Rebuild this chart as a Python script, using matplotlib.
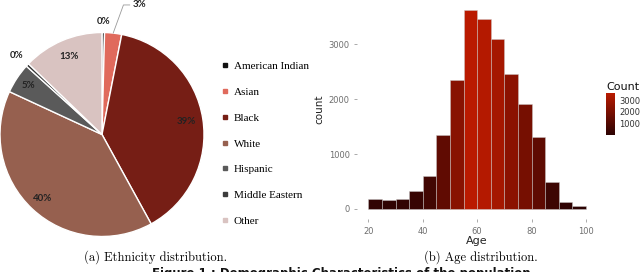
import matplotlib
matplotlib.use("Agg")
import matplotlib.pyplot as plt
from matplotlib.colors import LinearSegmentedColormap, Normalize
from matplotlib.lines import Line2D
import numpy as np

# ethnicity pie data (clockwise from the top)
groups = ['American Indian', 'Asian', 'Black', 'White', 'Hispanic',
          'Middle Eastern', 'Other']
shares = [0.4, 2.7, 38.9, 39.9, 4.8, 0.5, 12.8]
share_labels = ['0%', '3%', '39%', '40%', '5%', '0%', '13%']
group_colors = ['#111111', '#E06A5C', '#761E15', '#96604F', '#5A5A5A',
                '#3C3C3C', '#D9C3C1']

# age histogram data
age_edges = [20, 25, 30, 35, 40, 45, 50, 55, 60, 65, 70, 75, 80, 85, 90, 95, 100]
age_counts = [178, 160, 182, 328, 601, 1348, 2352, 3622, 3458, 3090, 2449,
              1917, 1318, 492, 128, 49]
age_ticks = [20, 40, 60, 80, 100]
count_ticks = [0, 1000, 2000, 3000]
cbar_ticks = [1000, 2000, 3000]

W, H = 640, 272
fig = plt.figure(figsize=(6.4, 2.72), dpi=100)


def box(x0, y0, x1, y1):
    # pixel box (top-left origin) -> figure fraction
    return [x0 / W, (H - y1) / H, (x1 - x0) / W, (y1 - y0) / H]


# ---- pie ----
ax1 = fig.add_axes(box(0, 32.5, 204, 236.5))
wedges, _ = ax1.pie(shares, colors=group_colors, startangle=90,
                    counterclock=False, radius=1,
                    wedgeprops=dict(edgecolor='white', linewidth=1.0))
ax1.set_xlim(-1, 1)
ax1.set_ylim(-1, 1)
ax1.set_aspect('equal')

label_dist = [1.11, None, 0.84, 0.86, 0.87, 1.14, 0.83]
for w, lab, d in zip(wedges, share_labels, label_dist):
    ang = np.deg2rad((w.theta1 + w.theta2) / 2)
    if d is None:
        # leader line for the small Asian slice
        ax1.annotate(lab, xy=(np.cos(ang), np.sin(ang)), xytext=(0.30, 1.27),
                     ha='left', va='center', fontsize=7, fontweight='bold',
                     family='Lato', color='#222222', annotation_clip=False,
                     arrowprops=dict(arrowstyle='-', color='#9a9a9a', lw=0.6,
                                     shrinkA=0, shrinkB=0,
                                     connectionstyle='angle,angleA=0,angleB=70'))
        continue
    ax1.text(d * np.cos(ang), d * np.sin(ang), lab, ha='center', va='center',
             fontsize=7, fontweight='bold', family='Lato', color='#222222')

handles = [Line2D([], [], marker='s', linestyle='', markersize=3,
                  markerfacecolor=c, markeredgecolor=c) for c in group_colors]
fig.legend(handles, groups, loc='upper left', bbox_to_anchor=(217 / W, 1 - 57 / H),
           frameon=False, prop=dict(family='Liberation Serif', size=8),
           handlelength=0.6, handletextpad=0.5, labelspacing=1.44,
           borderaxespad=0)

fig.text(156 / W, 1 - 257 / H, '(a) Ethnicity distribution.', ha='center',
         va='center', family='cmr10', fontsize=9)

# ---- histogram ----
cmap = LinearSegmentedColormap.from_list('reds', ['#2C0303', '#BA1A00'])
norm = Normalize(vmin=min(age_counts), vmax=max(age_counts))

ax2 = fig.add_axes(box(357.4, 0, 596.9, 218.9))
lefts = age_edges[:-1]
widths = np.diff(age_edges)
ax2.bar(lefts, age_counts, width=widths, align='edge',
        color=cmap(norm(np.array(age_counts))),
        edgecolor=(0.8, 0.8, 0.8, 0.45), linewidth=0.7)
ax2.set_xlim(16, 104)
ax2.set_ylim(-181, 3803)
for s in ax2.spines.values():
    s.set_visible(False)
ax2.set_xticks(age_ticks)
ax2.set_yticks(count_ticks)
ax2.tick_params(colors='#888888', labelcolor='#6e6e6e', labelsize=6,
                length=2, width=0.5)
ax2.set_xlabel('Age', fontsize=8, labelpad=0, color='#222222')
ax2.set_ylabel('count', fontsize=7.5, labelpad=3, color='#222222')

cax = fig.add_axes(box(606, 92.7, 615, 135))
sm = plt.cm.ScalarMappable(norm=norm, cmap=cmap)
cb = fig.colorbar(sm, cax=cax, ticks=cbar_ticks)
cb.outline.set_visible(False)
cax.tick_params(labelsize=6, length=2, width=0.4, color='white',
                labelcolor='#333333', pad=1)
fig.text(606 / W, 1 - 87 / H, 'Count', ha='left', va='center', fontsize=8,
         color='#111111')

fig.text(481 / W, 1 - 257 / H, '(b) Age distribution.', ha='center',
         va='center', family='cmr10', fontsize=9)

# figure caption, cut by the bottom edge in the reference
fig.text(152 / W, 1 - 267 / H,
         'Figure 1 : Demographic Characteristics of the population',
         ha='left', va='top', fontsize=8.5, fontweight='bold', color='#111111')

fig.savefig('out.png', dpi=100)
